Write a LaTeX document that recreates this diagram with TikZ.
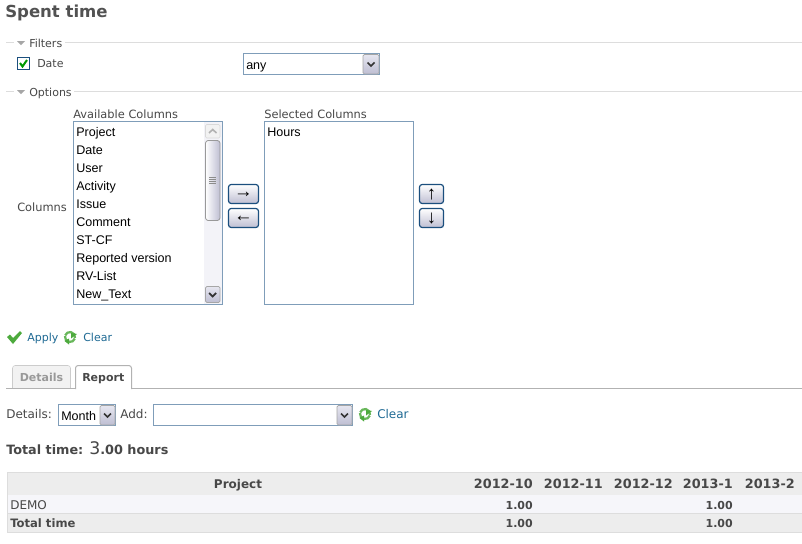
\documentclass[tikz,border=0pt]{standalone}
\usepackage{fontspec}
\setmainfont{DejaVu Sans}
\newfontfamily\listfont{Liberation Sans}
\definecolor{textgrey}{HTML}{484848}
\definecolor{linkblue}{HTML}{1F6A94}
\definecolor{rulegrey}{HTML}{DDDDDD}
\definecolor{fieldblue}{HTML}{7F9DB9}
\definecolor{navyedge}{HTML}{1B4F7E}
\definecolor{okgreen}{HTML}{4DAA3D}
\definecolor{btntop}{HTML}{E6E6F0}
\definecolor{btnlow}{HTML}{BEBED2}
\tikzset{
    lbl/.style={anchor=base west, inner sep=0pt, text=textgrey, font=\fontsize{8.25}{10}\selectfont},
    lblwide/.style={lbl, font=\fontsize{8.55}{10}\selectfont},
    lblbig/.style={lbl, font=\fontsize{9}{11}\selectfont},
    lblbold/.style={lbl, font=\fontsize{8.25}{10}\selectfont\bfseries},
    lnk/.style={lbl, text=linkblue},
    item/.style={anchor=base west, inner sep=0pt, text=black, font=\fontsize{9.4}{11}\selectfont\listfont},
    cell/.style={anchor=base east, inner sep=0pt, text=textgrey, font=\fontsize{8.25}{10}\selectfont\bfseries},
    headcell/.style={cell, font=\fontsize{9.6}{11}\selectfont\bfseries},
    field/.style={draw=fieldblue, fill=white, line width=0.75pt},
    dropbtn/.style={draw=black!35, top color=btntop, bottom color=btnlow, rounded corners=1pt, line width=0.6pt},
    movebtn/.style={draw=navyedge, top color=white, bottom color=btnlow, rounded corners=2pt, line width=0.9pt},
    arrowlbl/.style={inner sep=0pt, text=black, font=\fontsize{14}{16}\selectfont\listfont},
    rulel/.style={draw=rulegrey, line width=0.75pt},
    reload/.style={draw=okgreen!85!white, line width=1.7pt},
}
\newcommand{\chevron}[2]{\draw[black!80, line width=1.3pt] (#1-3.5,#2-1.5) -- (#1,#2+2) -- (#1+3.5,#2-1.5);}
\newcommand{\foldmark}[2]{\fill[black!35] (#1,#2) -- (#1+8,#2) -- (#1+4,#2+4) -- cycle;}
\newcommand{\reloadicon}[2]{
    \draw[reload] (#1-5,#2-1) arc (190:20:5.1);
    \draw[reload] (#1+5,#2+1) arc (10:-160:5.1);
    \fill[okgreen] (#1+1,#2+1.5) -- (#1+7,#2-3) -- (#1+1,#2-4) -- cycle;
    \fill[okgreen] (#1-1,#2+7.5) -- (#1-1,#2+1.5) -- (#1-5.5,#2+4) -- cycle;}
\begin{document}
\begin{tikzpicture}[x=0.75pt, y=-0.75pt]
            \useasboundingbox (0,0) rectangle (802,543);
            \fill[white] (0,0) rectangle (802,543);

            % heading and filters
            \node[lblbold, text=black!68, font=\fontsize{12.4}{15}\selectfont\bfseries] (title) at (5,17.5) {Spent time};
            \draw[rulel] (6,42.5) -- (14,42.5);
            \draw[rulel] (65,42.5) -- (802,42.5);
            \foldmark{17}{41}
            \node[lbl] (filters) at (29,47) {Filters};
            \draw[navyedge, fill=white, line width=0.75pt] (17.5,57.5) rectangle (29.5,69.5);
            \draw[green!60!black, line width=1.5pt] (20,63) -- (22.5,66.5) -- (27,60);
            \node[lbl] (datelbl) at (37,67) {Date};
            \draw[field] (243.5,53.5) rectangle (379.5,74.5);
            \draw[dropbtn] (363,54.5) rectangle (379,74);
            \chevron{371}{64}
            \node[item] (anysel) at (246,69) {any};

            % options
            \draw[rulel] (6,91.5) -- (14,91.5);
            \draw[rulel] (74,91.5) -- (802,91.5);
            \foldmark{17}{90}
            \node[lbl] (options) at (29,96) {Options};
            \node[lblwide] (columns) at (17,211) {Columns};
            \node[lblwide] (avail) at (73,118) {Available Columns};
            \node[lblwide] (selected) at (264,118) {Selected Columns};
            \draw[field] (73.5,121.5) rectangle (222.5,304.5);
            \draw[field] (264.5,121.5) rectangle (413.5,304.5);
            \foreach \name [count=\i from 0] in {Project,Date,User,Activity,Issue,Comment,ST-CF,Reported version,RV-List,New\_Text}
                \node[item] (col\i) at (76,136.5+18*\i) {\name};
            \node[item] (hours) at (267,136.5) {Hours};

            % scrollbar of the list
            \fill[btntop!50!white] (204,122) rectangle (222,304);
            \draw[black!15, fill=black!5, rounded corners=1pt] (205.5,124.5) rectangle (220,138);
            \draw[black!30, line width=1.2pt] (209,133) -- (212.7,129.5) -- (216.5,133);
            \draw[black!40, left color=white, right color=btnlow, rounded corners=2pt, line width=0.6pt] (205.5,140.5) rectangle (220,220.5);
            \foreach \gy in {177,179,181,183}
                \draw[black!45, line width=0.5pt] (209,\gy) -- (216,\gy);
            \draw[dropbtn] (205.5,286.5) rectangle (220,302.5);
            \chevron{212.7}{294.5}

            % move buttons
            \draw[movebtn] (228.5,184.5) rectangle (258.5,203.5);
            \node[arrowlbl] (addcol) at (243.5,195) {→};
            \draw[movebtn] (228.5,208.5) rectangle (258.5,227.5);
            \node[arrowlbl] (delcol) at (243.5,219) {←};
            \draw[movebtn] (419.5,184.5) rectangle (443.5,203.5);
            \node[arrowlbl] (upcol) at (431.5,195) {↑};
            \draw[movebtn] (419.5,208.5) rectangle (443.5,227.5);
            \node[arrowlbl] (downcol) at (431.5,219) {↓};

            % apply and clear
            \fill[okgreen] (7,337) -- (10,334.5) -- (13,338) -- (20,331) -- (22,333) -- (13,344) -- cycle;
            \node[lnk] (apply) at (27,341) {Apply};
            \reloadicon{70}{337}
            \node[lnk] (clear) at (83,341) {Clear};

            % tabs
            \draw[black!20, fill=black!5, rounded corners=2pt] (12.5,388) -- (12.5,365.5) -- (70.5,365.5) -- (70.5,388);
            \node[lblbold, text=black!40] (detailstab) at (19.5,381) {Details};
            \draw[black!30, line width=0.75pt] (6,388.5) -- (802,388.5);
            \draw[black!30, fill=white, rounded corners=2pt, line width=0.75pt] (75.5,389) -- (75.5,365.5) -- (131.5,365.5) -- (131.5,389);
            \node[lblbold] (reporttab) at (82,381) {Report};

            % report controls
            \node[lblbig] (detailslbl) at (6,418.5) {Details:};
            \draw[field] (58.5,404.5) rectangle (115.5,425.5);
            \node[item] (monthsel) at (61,420) {Month};
            \draw[dropbtn] (100,405.5) rectangle (115,425);
            \chevron{107.5}{415}
            \node[lblbig] (addlbl) at (120,418.5) {Add:};
            \draw[field] (153.5,404.5) rectangle (352.5,425.5);
            \draw[dropbtn] (337,405.5) rectangle (352,425);
            \chevron{344.5}{415}
            \reloadicon{365}{414}
            \node[lblbig, text=linkblue] (clearadd) at (377,418.5) {Clear};
            \node[lblbold, font=\fontsize{9.6}{11}\selectfont\bfseries] (totallbl) at (6,454.5) {Total time: \fontsize{13}{14}\selectfont\mdseries 3\fontsize{9.6}{11}\selectfont\bfseries.00 hours};

            % report table
            \fill[black!7] (7,472) rectangle (802,495);
            \fill[btntop!35!white] (7,495) rectangle (802,513);
            \fill[black!7] (7,513) rectangle (802,532);
            \draw[rulel] (7,472.5) -- (802,472.5);
            \draw[rulel] (7,513.5) -- (802,513.5);
            \draw[rulel] (7,532.5) -- (802,532.5);
            \draw[rulel] (7.5,472) -- (7.5,532);
            \node[headcell, anchor=base, font=\fontsize{9}{11}\selectfont\bfseries] (projhead) at (238,488.5) {Project};
            \foreach \head/\xr [count=\i] in {2012-10/533,2012-11/603,2012-12/673,2013-1/733,2013-2/795}
                \node[headcell] (head\i) at (\xr,488.5) {\head};
            \node[lblbig] (demo) at (10,509) {DEMO};
            \node[cell] (demoa) at (533,509) {1.00};
            \node[cell] (demob) at (733,509) {1.00};
            \node[lblbold, font=\fontsize{8.7}{10}\selectfont\bfseries] (totalrow) at (10,527) {Total time};
            \node[cell] (totala) at (533,527) {1.00};
            \node[cell] (totalb) at (733,527) {1.00};
\end{tikzpicture}
\end{document}
